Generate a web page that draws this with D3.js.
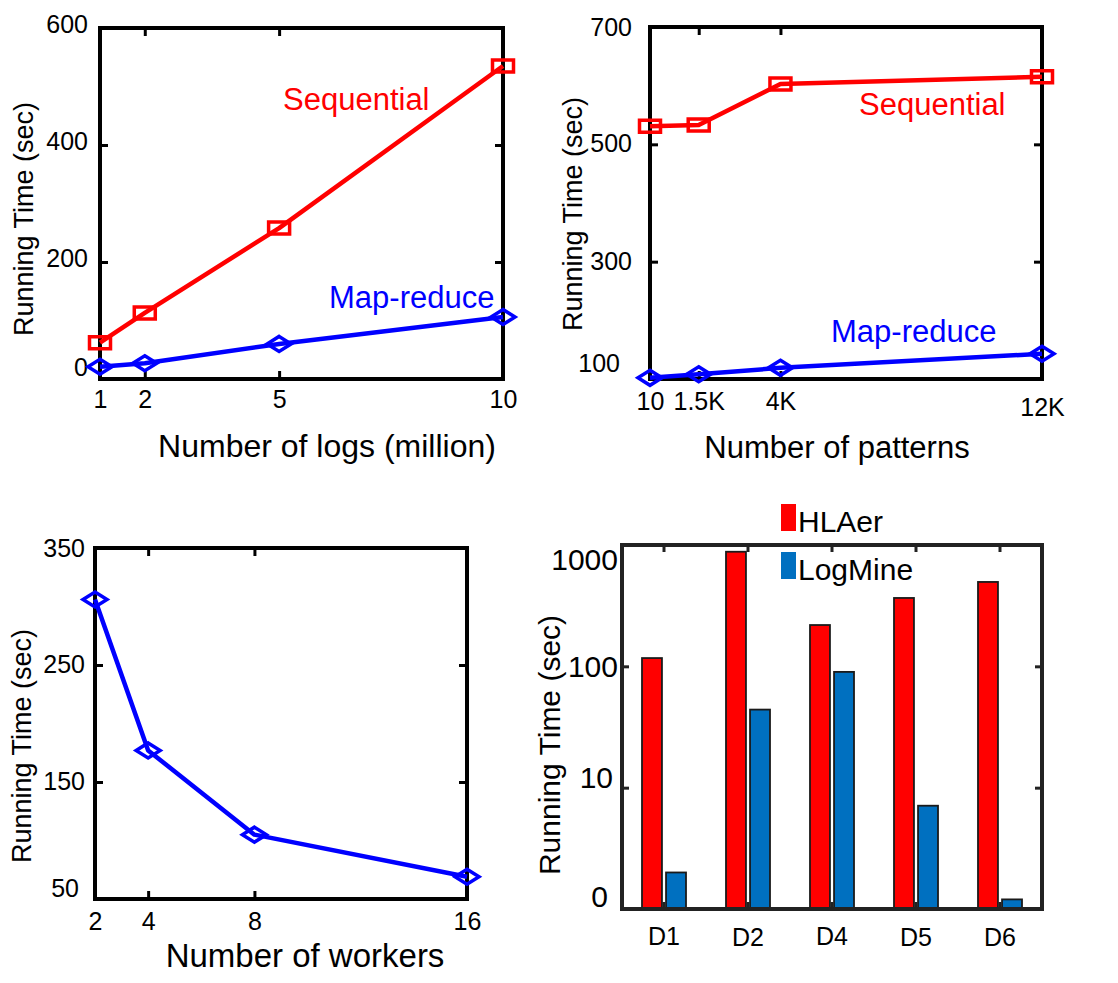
<!DOCTYPE html>
<html>
<head>
<meta charset="utf-8">
<script src="https://cdn.jsdelivr.net/npm/d3@7"></script>
<style>
  html, body { margin: 0; padding: 0; background: #fff; }
  svg { display: block; font-family: "Liberation Sans", Arial, Helvetica, sans-serif; }
</style>
</head>
<body>
<svg id="fig" width="1118" height="983"></svg>
<script>
// ---- (a) running time vs. number of logs ----
const logCounts = [1, 2, 5, 10];
const logTickLabels = ["1", "2", "5", "10"];
const logSequential = [62, 113, 258, 535];
const logMapReduce = [21, 27, 60, 106];
const logTimeTicks = [0, 200, 400, 600];

// ---- (b) running time vs. number of patterns ----
const patternCounts = [10, 1500, 4000, 12000];
const patternTickLabels = ["10", "1.5K", "4K", "12K"];
const patternSequential = [531, 533, 603, 615];
const patternMapReduce = [102, 108, 119, 143];
const patternTimeTicks = [100, 300, 500, 700];

// ---- (c) running time vs. number of workers ----
const workerCounts = [2, 4, 8, 16];
const workerTickLabels = ["2", "4", "8", "16"];
const workerMapReduce = [306, 177, 105, 69];
const workerTimeTicks = [50, 150, 250, 350];

// ---- (d) HLAer vs. LogMine per dataset (log scale) ----
const datasets = ["D1", "D2", "D4", "D5", "D6"];
const methods = ["HLAer", "LogMine"];
const hlaerTimes = [117, 880, 219, 366, 496];
const logmineTimes = [2.0, 44, 90, 7.1, 1.2];
const barTimeTicks = [1, 10, 100, 1000];
const barTimeTickLabels = ["0", "10", "100", "1000"];

const RED = "#ff0000", BLUE = "#0000ff";
const BAR_RED = "#ff0000", BAR_BLUE = "#0070c0";

const svg = d3.select("#fig");

function squareMarker(w, h) {
  return `M${-w/2},${-h/2}H${w/2}V${h/2}H${-w/2}Z`;
}
function diamondMarker(w, h) {
  return `M0,${-h/2}L${w/2},0L0,${h/2}L${-w/2},0Z`;
}

// Draws a boxed frame with inward ticks on all four sides.
function frame(g, x, y, box, opt) {
  const tick = opt.tick || 8;
  const col = opt.color || "#000";
  const style = sel => {
    sel.select(".domain").remove();
    sel.selectAll(".tick line").attr("stroke", col).attr("stroke-width", 3);
  };
  const bottom = g.append("g").attr("transform", `translate(0,${box.bottom})`)
    .call(d3.axisBottom(x).tickValues(opt.xTicks).tickSizeInner(-tick).tickSizeOuter(0)
      .tickFormat((d, i) => opt.xLabels[i]))
    .call(style);
  bottom.selectAll("text")
    .attr("dy", null).attr("y", opt.xLabelY)
    .attr("fill", "#000").attr("font-size", opt.xTickFont).attr("font-family", null)
    .attr("transform", (d, i) => `translate(0,${(opt.xNudge || [])[i] || 0})`);
  g.append("g").attr("transform", `translate(0,${box.top})`)
    .call(d3.axisTop(x).tickValues(opt.xTicks).tickSizeInner(-tick).tickSizeOuter(0).tickFormat(""))
    .call(style);
  const left = g.append("g").attr("transform", `translate(${box.left},0)`)
    .call(d3.axisLeft(y).tickValues(opt.yTicks).tickSizeInner(-tick).tickSizeOuter(0)
      .tickPadding(opt.yPad).tickFormat((d, i) => opt.yLabels[i]))
    .call(style);
  left.selectAll("text")
    .attr("fill", "#000").attr("font-size", opt.yTickFont).attr("font-family", null)
    .attr("transform", (d, i) => {
      const n = (opt.yNudge || [])[i] || [0, 0];
      return `translate(${n[0]},${n[1]})`;
    });
  g.append("g").attr("transform", `translate(${box.right},0)`)
    .call(d3.axisRight(y).tickValues(opt.yTicks).tickSizeInner(-tick).tickSizeOuter(0).tickFormat(""))
    .call(style);
  g.append("rect")
    .attr("x", box.left).attr("y", box.top)
    .attr("width", box.right - box.left).attr("height", box.bottom - box.top)
    .attr("fill", "none").attr("stroke", col).attr("stroke-width", opt.frameWidth || 4);
}

function axisTitles(g, opt) {
  g.append("text")
    .attr("transform", `translate(${opt.yTitle[0]},${opt.yTitle[1]}) rotate(-90)`)
    .attr("text-anchor", "middle").attr("dy", "0.36em")
    .attr("font-size", opt.yTitleFont)
    .text("Running Time (sec)");
  if (opt.xTitleText) {
    g.append("text")
      .attr("x", opt.xTitle[0]).attr("y", opt.xTitle[1])
      .attr("text-anchor", "middle")
      .attr("font-size", opt.xTitleFont)
      .text(opt.xTitleText);
  }
}

function linePanel(opt) {
  const g = svg.append("g");
  const box = opt.box;
  const x = d3.scaleLinear().domain(opt.xDomain).range([box.left, box.right]);
  const y = d3.scaleLinear().domain(opt.yDomain).range([box.bottom, box.top]);

  frame(g, x, y, box, {
    xTicks: opt.xValues, xLabels: opt.xLabels, xLabelY: opt.xLabelY, xTickFont: 25,
    xNudge: opt.xNudge,
    yTicks: opt.yTicks, yLabels: opt.yTicks.map(String), yPad: opt.yPad, yTickFont: 25,
    yNudge: opt.yNudge
  });

  const line = d3.line().x(d => x(d[0])).y(d => y(d[1]));
  opt.series.forEach(s => {
    const pts = opt.xValues.map((v, i) => [v, s.values[i]]);
    g.append("path").datum(pts)
      .attr("d", line).attr("fill", "none")
      .attr("stroke", s.color).attr("stroke-width", 4.5).attr("stroke-linejoin", "round");
    g.selectAll(null).data(pts).join("path")
      .attr("transform", d => `translate(${x(d[0])},${y(d[1])})`)
      .attr("d", s.marker === "square" ? squareMarker(21, 12) : diamondMarker(24, 15))
      .attr("fill", "none").attr("stroke", s.color).attr("stroke-width", 3.5);
    if (s.label) {
      g.append("text")
        .attr("x", s.labelAt[0]).attr("y", s.labelAt[1])
        .attr("fill", s.color).attr("font-size", 31)
        .text(s.label);
    }
  });

  axisTitles(g, {
    yTitle: opt.yTitle, yTitleFont: 27,
    xTitle: opt.xTitle, xTitleFont: opt.xTitleFont, xTitleText: opt.xTitleText
  });
}

// (a)
linePanel({
  box: { left: 100, right: 503, top: 28, bottom: 379 },
  xDomain: [1, 10], yDomain: [0, 600],
  xValues: logCounts, xLabels: logTickLabels, xLabelY: 29,
  yTicks: logTimeTicks, yPad: 12,
  yNudge: [[0, -12], [0, -4], [0, -4], [0, -4]],
  series: [
    { values: logSequential, color: RED, marker: "square", label: "Sequential", labelAt: [283, 110] },
    { values: logMapReduce, color: BLUE, marker: "diamond", label: "Map-reduce", labelAt: [329, 308] }
  ],
  yTitle: [23, 219], xTitle: [327, 457], xTitleFont: 32, xTitleText: "Number of logs (million)"
});

// (b)
linePanel({
  box: { left: 650, right: 1042, top: 27, bottom: 379 },
  xDomain: [10, 12000], yDomain: [100, 700],
  xValues: patternCounts, xLabels: patternTickLabels, xLabelY: 31,
  xNudge: [0, 0, 0, 6],
  yTicks: patternTimeTicks, yPad: 18,
  yNudge: [[-12, -16], [0, 0], [0, -1], [0, 0]],
  series: [
    { values: patternSequential, color: RED, marker: "square", label: "Sequential", labelAt: [859, 115] },
    { values: patternMapReduce, color: BLUE, marker: "diamond", label: "Map-reduce", labelAt: [831, 342] }
  ],
  yTitle: [572, 214], xTitle: [837, 458], xTitleFont: 31, xTitleText: "Number of patterns"
});

// (c)
linePanel({
  box: { left: 95, right: 467, top: 548, bottom: 899 },
  xDomain: [2, 16], yDomain: [50, 350],
  xValues: workerCounts, xLabels: workerTickLabels, xLabelY: 31,
  yTicks: workerTimeTicks, yPad: 10,
  yNudge: [[-6, -11], [0, -1], [0, -1], [0, 0]],
  series: [
    { values: workerMapReduce, color: BLUE, marker: "diamond" }
  ],
  yTitle: [21, 746], xTitle: [305, 967], xTitleFont: 33, xTitleText: "Number of workers"
});

// (d) grouped bars on a log axis
(function () {
  const g = svg.append("g");
  const box = { left: 622, right: 1042, top: 545, bottom: 909 };
  const x = d3.scaleBand().domain(datasets).range([box.left, box.right]).padding(0);
  const sub = d3.scaleBand().domain(methods).range([20, 64]).paddingInner(0.17);
  const y = d3.scaleLog().domain([1, 1000]).range([box.bottom, box.top]);
  const colors = { HLAer: BAR_RED, LogMine: BAR_BLUE };
  const values = { HLAer: hlaerTimes, LogMine: logmineTimes };

  methods.forEach(m => {
    g.selectAll(null).data(datasets).join("rect")
      .attr("x", d => x(d) + sub(m))
      .attr("width", sub.bandwidth())
      .attr("y", (d, i) => y(values[m][i]))
      .attr("height", (d, i) => box.bottom - y(values[m][i]))
      .attr("fill", colors[m]).attr("stroke", "#1a1a1a").attr("stroke-width", 1.8);
  });

  frame(g, x, y, box, {
    color: "#222", tick: 7, frameWidth: 4,
    xTicks: datasets, xLabels: datasets, xLabelY: 30, xTickFont: 25,
    xNudge: [6, 7, 6, 7, 7],
    yTicks: barTimeTicks, yLabels: barTimeTickLabels, yPad: 4, yTickFont: 30,
    yNudge: [[-10, -12], [-5, -10], [0, 1], [0, 15]]
  });

  // legend
  const leg = g.append("g");
  methods.forEach((m, i) => {
    const top = [504, 552][i];
    leg.append("rect").attr("x", 781).attr("y", top).attr("width", 15).attr("height", 27)
      .attr("fill", colors[m]);
    leg.append("text").attr("x", 798).attr("y", top + 28)
      .attr("font-size", 30).text(m);
  });

  axisTitles(g, { yTitle: [549, 745], yTitleFont: 30 });
})();
</script>
</body>
</html>
